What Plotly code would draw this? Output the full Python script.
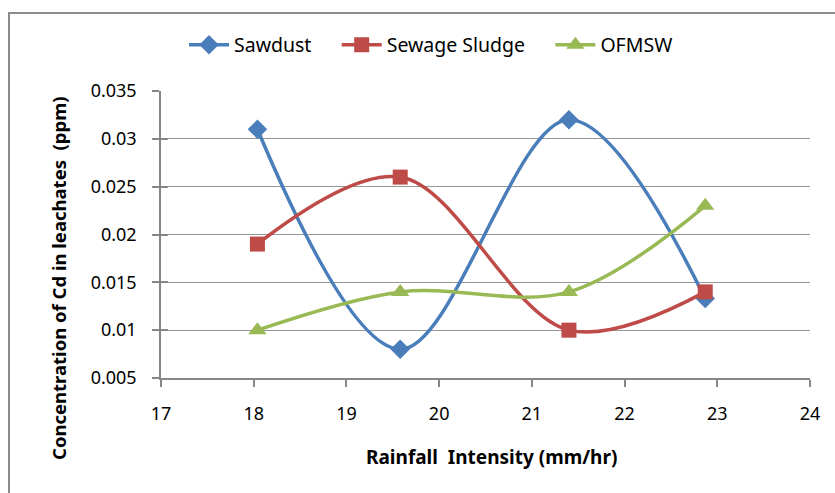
import plotly.graph_objects as go

x_vals = [18.04, 19.58, 21.40, 22.87]
sawdust = [0.031, 0.008, 0.032, 0.0133]
sewage = [0.019, 0.026, 0.010, 0.014]
ofmsw = [0.010, 0.014, 0.014, 0.023]
series_names = ["Sawdust", "Sewage Sludge", "OFMSW"]

x_ticks = [17, 18, 19, 20, 21, 22, 23, 24]
y_ticks = [0.005, 0.01, 0.015, 0.02, 0.025, 0.03, 0.035]
y_tick_text = ["0.005", "0.01", "0.015", "0.02", "0.025", "0.03", "0.035"]

FONT = "Noto Sans"
L, R, T, B = 161, 25, 91, 115
PW, PH = 835 - L - R, 493 - T - B
PAD = "\u00a0" * 4

fig = go.Figure()
fig.add_trace(go.Scatter(x=x_vals, y=sawdust, name=series_names[0] + PAD, mode="lines+markers",
                         line=dict(color="#4A7EBB", width=3.5, shape="spline", smoothing=1),
                         marker=dict(symbol="diamond", size=15, color="#4A7EBB")))
fig.add_trace(go.Scatter(x=x_vals, y=sewage, name=series_names[1] + PAD, mode="lines+markers",
                         line=dict(color="#BE4B48", width=3.5, shape="spline", smoothing=1),
                         marker=dict(symbol="square", size=15, color="#BE4B48")))
fig.add_trace(go.Scatter(x=x_vals, y=ofmsw, name=series_names[2], mode="lines+markers",
                         line=dict(color="#98B954", width=3.5, shape="spline", smoothing=1),
                         marker=dict(symbol="triangle-up", size=16, color="#98B954")))
# invisible helper trace so the overlaid axis (crossing tick marks) is drawn
fig.add_trace(go.Scatter(x=x_vals[:1], y=sawdust[:1], yaxis="y2", mode="markers",
                         marker=dict(opacity=0), showlegend=False, hoverinfo="skip"))

fig.update_layout(
    width=835, height=493,
    margin=dict(l=L, r=R, t=T, b=B),
    paper_bgcolor="white", plot_bgcolor="white",
    font=dict(family=FONT, size=15, color="black"),
    showlegend=True,
    legend=dict(orientation="h", x=431 / 835, xanchor="center", xref="container",
                y=1 - 45 / 493, yanchor="middle", yref="container",
                font=dict(size=19.5), itemwidth=40, tracegroupgap=0),
    shapes=[dict(type="rect", xref="paper", yref="paper",
                 x0=-(L - 9) / PW, x1=1.2, y0=-0.6, y1=1 + (T - 13) / PH,
                 line=dict(color="#8C8C8C", width=2), fillcolor="rgba(0,0,0,0)", layer="below")],
    annotations=[
        dict(text="<b>Rainfall  Intensity (mm/hr)</b>", xref="paper", yref="paper",
             x=(491 - L) / PW, y=-(457 - (T + PH)) / PH, xanchor="center", yanchor="middle",
             showarrow=False, font=dict(size=19)),
        dict(text="<b>Concentration of Cd in leachates  (ppm)</b>", xref="paper", yref="paper",
             x=(58 - L) / PW, y=((T + PH) - 278) / PH, xanchor="center", yanchor="middle",
             textangle=-90, showarrow=False, font=dict(size=18.5)),
    ],
    yaxis2=dict(overlaying="y", anchor="x", side="left", range=[0.005, 0.035], tickvals=y_ticks,
                showticklabels=False, showgrid=False, zeroline=False, showline=False,
                ticks="inside", ticklen=7, tickcolor="#868686", tickwidth=1.5),
)
fig.update_xaxes(range=[17, 24], tickvals=x_ticks, showgrid=False, zeroline=False,
                 showline=True, linecolor="#868686", linewidth=1.5,
                 ticks="outside", ticklen=7, tickcolor="#868686", tickwidth=1.5,
                 tickfont=dict(size=18), ticklabelstandoff=12)
fig.update_layout(yaxis=dict(range=[0.005, 0.035], tickvals=y_ticks, ticktext=y_tick_text,
                             showgrid=True, gridcolor="#969696", gridwidth=1.2, zeroline=False,
                             showline=True, linecolor="#868686", linewidth=1.5,
                             ticks="outside", ticklen=7, tickcolor="#868686", tickwidth=1.5,
                             tickfont=dict(size=18), ticklabelstandoff=12))

fig.write_html("out.html")
